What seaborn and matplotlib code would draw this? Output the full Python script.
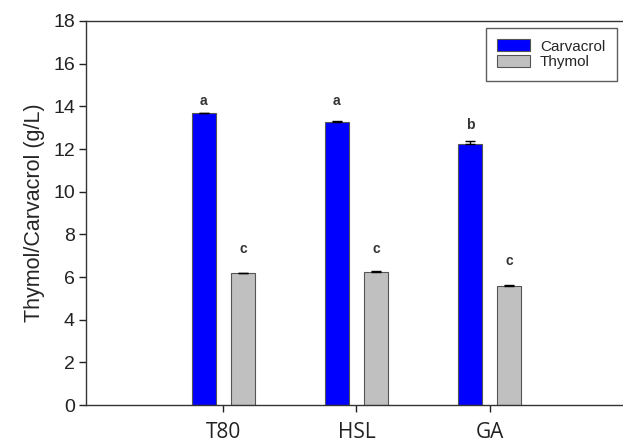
import matplotlib
matplotlib.use("Agg")
import matplotlib.pyplot as plt
import seaborn as sns
import pandas as pd

# Concentrations of the two monoterpenes for each emulsifier
formulations = ["T80", "HSL", "GA"]
carvacrol = [13.68, 13.27, 12.25]
carvacrol_err = [0.03, 0.04, 0.12]
thymol = [6.18, 6.25, 5.60]
thymol_err = [0.03, 0.03, 0.04]
carvacrol_letters = ["a", "a", "b"]
thymol_letters = ["c", "c", "c"]
carvacrol_letter_y = [14.25, 14.25, 13.13]
thymol_letter_y = [7.3, 7.3, 6.75]
compounds = ["Carvacrol", "Thymol"]
palette = {"Carvacrol": "#0000ff", "Thymol": "#c0c0c0"}

df = pd.DataFrame({
    "Formulation": formulations * 2,
    "Compound": [compounds[0]] * 3 + [compounds[1]] * 3,
    "Value": carvacrol + thymol,
    "Err": carvacrol_err + thymol_err,
    "Letter": carvacrol_letters + thymol_letters,
    "LetterY": carvacrol_letter_y + thymol_letter_y,
})

sns.set_style("ticks")
plt.rcParams["font.family"] = ["Liberation Sans", "DejaVu Sans"]

fig = plt.figure(figsize=(6.23, 4.46), dpi=100)
ax = fig.add_axes([86 / 623, 1 - 405 / 446, 1 - 86 / 623, (405 - 21) / 446])

sns.barplot(data=df, x="Formulation", y="Value", hue="Compound",
            order=formulations, hue_order=compounds, palette=palette,
            width=0.59, gap=0.39, errorbar=None, edgecolor="#555555",
            linewidth=0.8, saturation=1, ax=ax)

# error bars and significance letters on top of each bar
for container, comp in zip(ax.containers, compounds):
    sub = df[df["Compound"] == comp].set_index("Formulation").loc[formulations]
    for patch, (_, row) in zip(container.patches, sub.iterrows()):
        xc = patch.get_x() + patch.get_width() / 2
        ax.errorbar(xc, row["Value"], yerr=[[0], [row["Err"]]], fmt="none",
                    ecolor="black", elinewidth=1, capsize=3.5, capthick=1)
        ax.text(xc, row["LetterY"], row["Letter"],
                ha="center", va="center", fontsize=10, fontweight="bold",
                color="#333333")

ax.set_xlim(-1.03, 3.0)
ax.set_ylim(0, 18)
ax.set_yticks(range(0, 19, 2))
ax.set_xlabel("")
ax.set_ylabel("Thymol/Carvacrol (g/L)", fontsize=15.5, labelpad=6)
ax.tick_params(axis="y", labelsize=14, length=5, width=1, colors="#222222",
               pad=3)
ax.tick_params(axis="x", length=5, width=1, pad=7, colors="#222222")
for lbl in ax.get_xticklabels():
    lbl.set_fontfamily(["Open Sans", "DejaVu Sans"])
    lbl.set_fontsize(15)

for side in ["left", "top", "bottom"]:
    ax.spines[side].set_visible(True)
    ax.spines[side].set_color("#333333")
    ax.spines[side].set_linewidth(1)
ax.spines["right"].set_visible(False)

leg = ax.legend(loc="upper right", bbox_to_anchor=(0.988, 0.982),
                frameon=True, fancybox=False, edgecolor="#333333",
                fontsize=11, handlelength=2.15, handleheight=0.8,
                handletextpad=0.65, borderpad=0.75, labelspacing=0.1,
                borderaxespad=0)
leg.get_frame().set_linewidth(1)
for h in leg.legend_handles:
    h.set_edgecolor("#555555")
    h.set_linewidth(0.8)

fig.savefig("out.png", dpi=100)
